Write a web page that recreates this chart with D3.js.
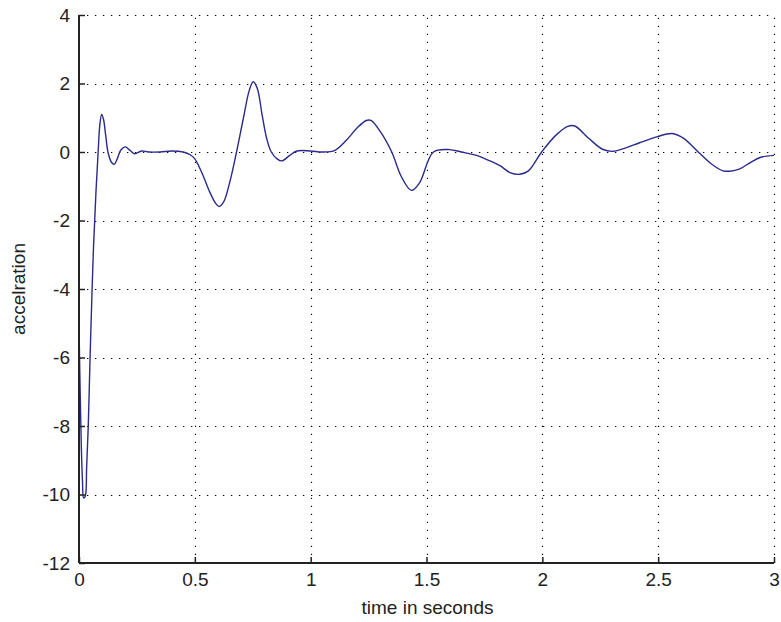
<!DOCTYPE html>
<html>
<head>
<meta charset="utf-8">
<script src="https://cdnjs.cloudflare.com/ajax/libs/d3/7.8.5/d3.min.js"></script>
<style>
  html, body { margin: 0; padding: 0; background: #ffffff; }
  svg { display: block; }
  text { font-family: "Liberation Sans", Arial, Helvetica, sans-serif; fill: #222; }
</style>
</head>
<body>
<svg id="chart" width="781" height="622"></svg>
<script>
// Acceleration response sampled over time
const timeValues = [
  0, 0.005, 0.010, 0.015, 0.020, 0.027, 0.033, 0.040, 0.047, 0.053, 0.062, 0.073, 0.083, 0.090,
  0.098, 0.106, 0.115, 0.125, 0.140, 0.152, 0.165, 0.180, 0.200, 0.220, 0.240, 0.270, 0.300,
  0.350, 0.400, 0.450, 0.480, 0.500, 0.530, 0.560, 0.590, 0.605, 0.625, 0.650, 0.680, 0.710,
  0.735, 0.752, 0.770, 0.790, 0.810, 0.830, 0.855, 0.875, 0.910, 0.940, 1.000, 1.050, 1.105,
  1.155, 1.200, 1.240, 1.260, 1.300, 1.350, 1.390, 1.435, 1.470, 1.530, 1.600, 1.650, 1.716,
  1.760, 1.817, 1.860, 1.903, 1.940, 1.997, 2.060, 2.110, 2.140, 2.200, 2.260, 2.305, 2.360,
  2.420, 2.493, 2.560, 2.610, 2.673, 2.730, 2.780, 2.810, 2.850, 2.900, 2.940, 3.000
];
const accelValues = [
  -5.1, -7.0, -8.6, -9.6, -10.1, -10.05, -9.2, -8.0, -6.2, -4.8, -2.9, -1.2, 0.05, 0.8,
  1.1, 0.95, 0.5, 0.0, -0.3, -0.36, -0.2, 0.05, 0.15, 0.05, -0.05, 0.03, 0.0,
  0.0, 0.03, 0.0, -0.08, -0.2, -0.6, -1.1, -1.5, -1.59, -1.45, -0.9, 0.0, 1.0,
  1.8, 2.05, 1.85, 1.1, 0.4, 0.0, -0.2, -0.26, -0.1, 0.03, 0.03, 0.0, 0.05,
  0.35, 0.7, 0.92, 0.92, 0.6, 0.0, -0.7, -1.12, -0.9, 0.0, 0.07, 0.0, -0.1,
  -0.22, -0.4, -0.6, -0.65, -0.55, 0.0, 0.5, 0.75, 0.76, 0.4, 0.08, 0.02, 0.12,
  0.27, 0.44, 0.54, 0.4, 0.0, -0.35, -0.55, -0.56, -0.5, -0.3, -0.16, -0.1
];
const xTicks = [0, 0.5, 1, 1.5, 2, 2.5, 3];
const yTicks = [4, 2, 0, -2, -4, -6, -8, -10, -12];
const xLabelText = "time in seconds";
const yLabelText = "accelration";

const svg = d3.select("#chart");
const margin = { left: 79, right: 7, top: 15, bottom: 59 };
const W = 781, H = 622;
const plotW = W - margin.left - margin.right;
const plotH = H - margin.top - margin.bottom;

const x = d3.scaleLinear().domain([0, 3]).range([margin.left, margin.left + plotW]);
const y = d3.scaleLinear().domain([-12, 4]).range([margin.top + plotH, margin.top]);

// plain tick text with an ASCII hyphen for negatives
const fmt = d => String(d);

// dotted grid
const grid = svg.append("g").attr("stroke", "#000").attr("stroke-width", 1.2)
  .attr("stroke-dasharray", "1.3,6.7");
grid.selectAll("line.vx").data(xTicks.filter(d => d > 0)).join("line")
  .attr("x1", d => Math.round(x(d)) + 0.5).attr("x2", d => Math.round(x(d)) + 0.5)
  .attr("y1", y(-12)).attr("y2", y(4));
grid.selectAll("line.hy").data(yTicks.filter(d => d > -12)).join("line")
  .attr("y1", d => Math.round(y(d)) + 0.5).attr("y2", d => Math.round(y(d)) + 0.5)
  .attr("x1", x(0)).attr("x2", x(3));

// data line
const series = timeValues.map((t, i) => [t, accelValues[i]]);
svg.append("path")
  .datum(series)
  .attr("fill", "none")
  .attr("stroke", "#2a2a8c")
  .attr("stroke-width", 1.4)
  .attr("d", d3.line().x(d => x(d[0])).y(d => y(d[1])).curve(d3.curveCatmullRom.alpha(0.5)));

// axes
const xAxis = d3.axisBottom(x).tickValues(xTicks).tickFormat(fmt).tickSize(-6).tickPadding(10);
const yAxis = d3.axisLeft(y).tickValues(yTicks).tickFormat(fmt).tickSize(-6).tickPadding(9);

const gx = svg.append("g").attr("transform", `translate(0,${y(-12)})`).call(xAxis);
const gy = svg.append("g").attr("transform", `translate(${x(0)},0)`).call(yAxis);
[gx, gy].forEach(g => {
  g.select(".domain").attr("stroke", "#222").attr("stroke-width", 2);
  g.selectAll(".tick line").attr("stroke", "#222").attr("stroke-width", 1.5);
  g.selectAll(".tick text").attr("font-size", 19).attr("fill", "#222")
    .attr("font-family", "'Liberation Sans', Arial, sans-serif");
});
// plain axis lines without end caps
gx.select(".domain").attr("d", `M${x(0)},0H${x(3)}`);
gy.select(".domain").attr("d", `M0,${y(-12)}V${y(4)}`);

// axis labels
svg.append("text")
  .attr("x", (x(0) + x(3)) / 2 + 1).attr("y", 614)
  .attr("text-anchor", "middle").attr("font-size", 19)
  .text(xLabelText);
svg.append("text")
  .attr("transform", `translate(25,${(y(4) + y(-12)) / 2}) rotate(-90)`)
  .attr("text-anchor", "middle").attr("font-size", 19)
  .text(yLabelText);
</script>
</body>
</html>
